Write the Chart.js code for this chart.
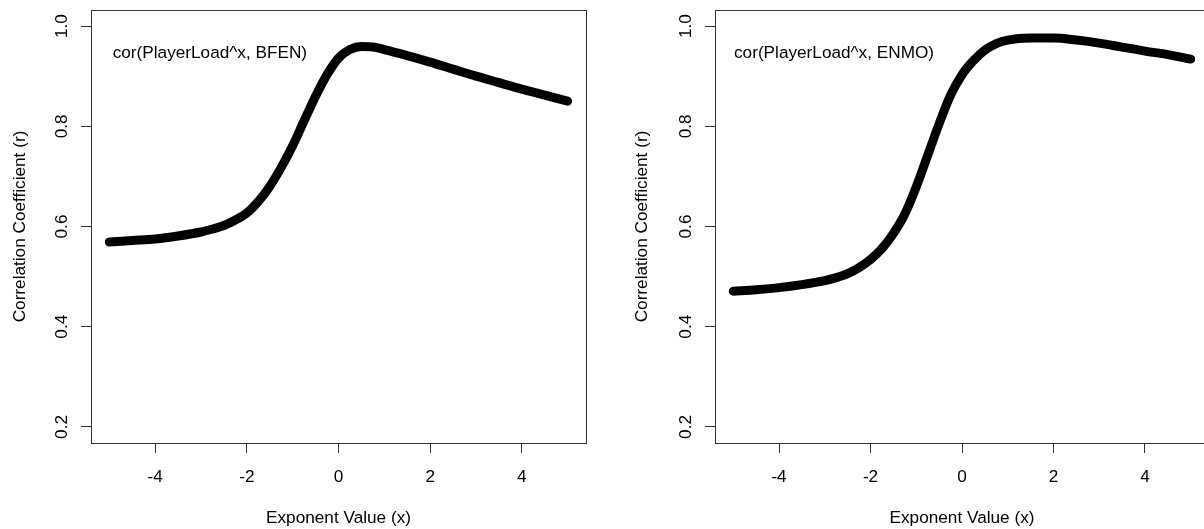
<!DOCTYPE html>
<html><head><meta charset="utf-8">
<script src="https://cdn.jsdelivr.net/npm/chart.js@4/dist/chart.umd.min.js"></script>
<style>
html,body{margin:0;padding:0;background:#fff;overflow:hidden;width:1204px;height:529px;position:relative;}
#w1{position:absolute;left:0;top:0;width:600px;height:529px;}
#w2{position:absolute;left:600px;top:0;width:620px;height:529px;}
</style></head><body>
<div id="w1"><canvas id="c1"></canvas></div>
<div id="w2"><canvas id="c2"></canvas></div>
<script>
// ---- data ----
const exponents = [-5, -4.5, -4, -3.5, -3, -2.75, -2.5, -2.25, -2, -1.75, -1.5, -1.25, -1, -0.75, -0.5, -0.25, 0, 0.25, 0.5, 0.75, 1, 1.5, 2, 2.5, 3, 3.5, 4, 4.5, 5];
const corBFEN  = [0.569, 0.572, 0.575, 0.581, 0.589, 0.595, 0.602, 0.613, 0.627, 0.650, 0.680, 0.718, 0.761, 0.811, 0.860, 0.903, 0.936, 0.953, 0.959, 0.958, 0.953, 0.941, 0.928, 0.914, 0.900, 0.887, 0.874, 0.862, 0.850];
const corENMO  = [0.471, 0.474, 0.478, 0.484, 0.492, 0.498, 0.506, 0.518, 0.534, 0.556, 0.586, 0.625, 0.679, 0.742, 0.805, 0.862, 0.903, 0.931, 0.952, 0.965, 0.972, 0.976, 0.976, 0.972, 0.966, 0.958, 0.950, 0.943, 0.934];
const xTicks = [-4, -2, 0, 2, 4];
const yTicks = [0.2, 0.4, 0.6, 0.8, 1.0];
const panelLabels = ['cor(PlayerLoad^x, BFEN)', 'cor(PlayerLoad^x, ENMO)'];
const xTitle = 'Exponent Value (x)';
const yTitle = 'Correlation Coefficient (r)';

const FONT = "'Liberation Sans', Arial, Helvetica, sans-serif";
const FS = 17.2;
Chart.defaults.font.family = FONT;
Chart.defaults.font.size = FS;
Chart.defaults.color = '#000';

const boxPlugin = {
  id: 'rbox',
  afterDatasetsDraw(chart, args, opts) {
    const {ctx, chartArea: a} = chart;
    ctx.save();
    ctx.strokeStyle = '#333';
    ctx.lineWidth = 1;
    ctx.strokeRect(Math.round(a.left) + 0.5, Math.round(a.top) + 0.5,
                   Math.round(a.right - a.left), Math.round(a.bottom - a.top));
    ctx.fillStyle = '#000';
    ctx.font = FS + 'px ' + FONT;
    ctx.textAlign = 'left';
    ctx.textBaseline = 'alphabetic';
    ctx.fillText(opts.text, a.left + opts.dx, a.top + opts.dy);
    ctx.restore();
  }
};

function makeChart(id, values, label, yw, padRight, yTitlePad, labelDx) {
  const pts = exponents.map((x, i) => ({x: x, y: values[i]}));
  return new Chart(document.getElementById(id), {
    type: 'scatter',
    data: {datasets: [{
      data: pts, showLine: true, borderColor: '#000', backgroundColor: '#000',
      borderWidth: 9, pointRadius: 0, borderCapStyle: 'round', borderJoinStyle: 'round',
      cubicInterpolationMode: 'monotone'
    }]},
    options: {
      responsive: true, maintainAspectRatio: false, animation: false, devicePixelRatio: 1,
      layout: {padding: {left: 0, top: 10, right: padRight, bottom: 0}},
      plugins: {legend: {display: false}, tooltip: {enabled: false},
                rbox: {text: label, dx: labelDx, dy: 47.7}},
      scales: {
        x: {
          type: 'linear', min: -5.4, max: 5.4,
          afterBuildTicks: s => { s.ticks = xTicks.map(v => ({value: v})); },
          afterFit: s => { s.height = 86; s.paddingLeft = 0; s.paddingRight = 0; },
          grid: {drawOnChartArea: false, drawTicks: true, tickLength: 10, color: '#333', lineWidth: 1},
          border: {display: false},
          ticks: {padding: 14, color: '#000', font: {size: FS}, maxRotation: 0, autoSkip: false,
                  callback: v => String(v)},
          title: {display: true, text: xTitle, color: '#000', font: {size: FS}, padding: {top: 0, bottom: 0.5}}
        },
        y: {
          type: 'linear', min: 0.168, max: 1.032,
          afterBuildTicks: s => { s.ticks = yTicks.map(v => ({value: v})); },
          afterFit: s => { s.width = yw; s.paddingTop = 0; s.paddingBottom = 0; },
          grid: {drawOnChartArea: false, drawTicks: true, tickLength: 10, color: '#333', lineWidth: 1},
          border: {display: false},
          ticks: {minRotation: 90, maxRotation: 90, crossAlign: 'center', padding: 6.5, color: '#000',
                  font: {size: FS}, autoSkip: false, callback: v => v.toFixed(1)},
          title: {display: true, text: yTitle, color: '#000', font: {size: FS}, padding: {top: yTitlePad, bottom: 0}}
        }
      }
    },
    plugins: [boxPlugin]
  });
}

makeChart('c1', corBFEN, panelLabels[0], 91, 14, 9.7, 21.7);
makeChart('c2', corENMO, panelLabels[1], 115, 11, 32, 19);
</script>
</body></html>
